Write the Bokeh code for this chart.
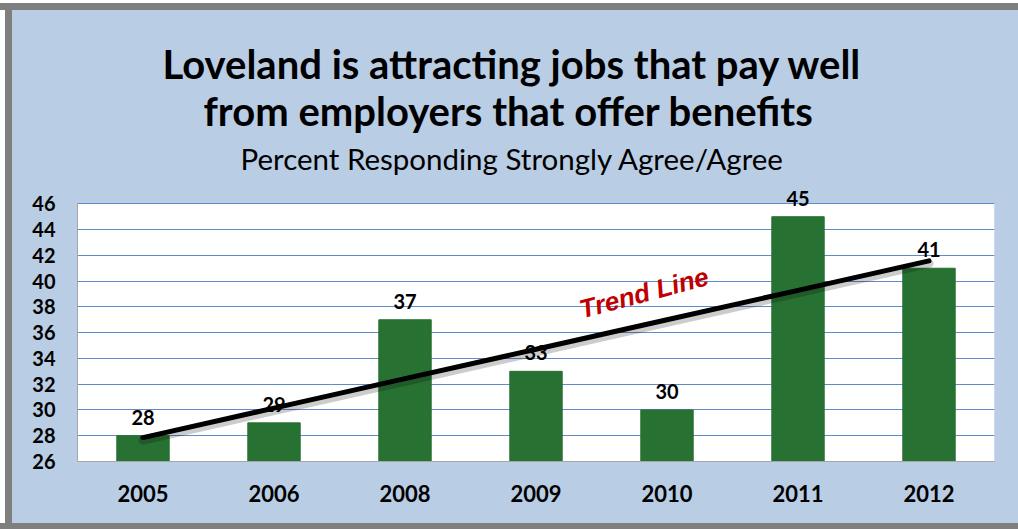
import numpy as np
from bokeh.plotting import figure
from bokeh.layouts import column
from bokeh.models import (FactorRange, Range1d, Title, LabelSet, ColumnDataSource,
                          Label, FixedTicker, BoxAnnotation)
from bokeh.core.properties import value
from bokeh.embed import file_html
from bokeh.resources import INLINE

# ---- data ----
years = ["2005", "2006", "2008", "2009", "2010", "2011", "2012"]
pct = [28, 29, 37, 33, 30, 45, 41]
y_ticks = [26, 28, 30, 32, 34, 36, 38, 40, 42, 44, 46]
title_line1 = "Loveland is attracting jobs that pay well"
title_line2 = "from employers that offer benefits"
subtitle = "Percent Responding Strongly Agree/Agree"
trend_text = "Trend Line"

# ---- styles ----
BG = "#b9cde5"
FRAME_GRAY = "#7f7f7f"
GREEN = "#277132"
GRID = "#5f8bcb"
AXIS = "#a6a6a6"
FONT = "Lato"
HEADROOM = 1.5   # space above the plot area so value labels are not clipped

# linear trend (least squares over category index)
idx = np.arange(len(pct))
slope, intercept = np.polyfit(idx, pct, 1)
trend = list(intercept + slope * idx)
trend_shadow = [t - 0.2 for t in trend]

src = ColumnDataSource(dict(year=years, pct=pct, label=[str(v) for v in pct],
                            base=[y_ticks[0]] * len(pct), trend=trend,
                            shadow=trend_shadow))

p = figure(width=1006, height=513,
           x_range=FactorRange(*years, range_padding=0),
           y_range=Range1d(y_ticks[0], y_ticks[-1] + HEADROOM),
           output_backend="svg", toolbar_location=None,
           min_border_left=65, min_border_right=24,
           min_border_bottom=62, min_border_top=174,
           background_fill_color=BG, border_fill_color=BG,
           outline_line_color=None)
p.margin = (10, 0, 6, 12)

# white plot area 26..46
p.add_layout(BoxAnnotation(bottom=y_ticks[0], top=y_ticks[-1], fill_color="white",
                           fill_alpha=1, line_color=None, level="image"))

# titles (added bottom-up)
p.add_layout(Title(text=subtitle, align="left", text_font=FONT,
                   text_font_size="29.5px", text_font_style="normal",
                   text_color="#000000", standoff=18, offset=163), "above")
p.add_layout(Title(text=title_line2, align="left", text_font=FONT,
                   text_font_size="40px", text_font_style="bold",
                   text_color="#000000", standoff=-10, offset=126), "above")
p.add_layout(Title(text=title_line1, align="left", text_font=FONT,
                   text_font_size="40px", text_font_style="bold",
                   text_color="#000000", standoff=3, offset=85), "above")

# axes
p.yaxis.ticker = FixedTicker(ticks=y_ticks)
p.yaxis.bounds = (y_ticks[0], y_ticks[-1])
p.yaxis.major_label_text_font = FONT
p.yaxis.major_label_text_font_size = "20px"
p.yaxis.major_label_text_font_style = "bold"
p.yaxis.major_label_text_color = "#000000"
p.yaxis.major_tick_line_color = None
p.yaxis.minor_tick_line_color = None
p.yaxis.major_tick_out = 0
p.yaxis.major_label_standoff = 22
p.yaxis.axis_line_color = AXIS

p.xaxis.major_label_text_font = FONT
p.xaxis.major_label_text_font_size = "22px"
p.xaxis.major_label_text_font_style = "bold"
p.xaxis.major_label_text_color = "#000000"
p.xaxis.major_tick_line_color = None
p.xaxis.major_tick_out = 0
p.xaxis.major_label_standoff = 23
p.xaxis.axis_line_color = AXIS

p.xgrid.grid_line_color = None
p.ygrid.grid_line_color = GRID
p.ygrid.grid_line_width = 1

# bars
p.vbar(x="year", top="pct", bottom="base", width=0.4, source=src,
       fill_color=GREEN, line_color=GREEN)

# value labels
p.add_layout(LabelSet(x="year", y="pct", text="label", source=src,
                      text_align="center", text_baseline="bottom", y_offset=11,
                      text_font=value(FONT), text_font_size=value("20px"),
                      text_font_style=value("bold"), text_color="#000000"))

# trend line with soft shadow
shadow = p.line(x="year", y="shadow", source=src, line_color="#000000",
                line_alpha=0.2, line_width=9, line_cap="round")
shadow.level = "overlay"
tl = p.line(x="year", y="trend", source=src, line_color="#000000",
            line_width=5, line_cap="round")
tl.level = "overlay"

# "Trend Line" annotation placed above the fitted line near 2010
k = years.index("2010")
p.add_layout(Label(x=k + 0.5, y=trend[k], x_offset=-23, y_offset=27,
                   text=trend_text, angle=0.26, text_align="center",
                   text_baseline="middle", text_font="Liberation Sans",
                   text_font_size="26px", text_font_style="bold italic",
                   text_color="#c00000"))

# page background: light blue behind the chart, grey frame band at top/left/bottom
page = column(p, styles={
    "background-color": BG,
    "background-image": (
        f"linear-gradient(to bottom, #ffffff 0px, #ffffff 3px, {FRAME_GRAY} 3px, "
        f"{FRAME_GRAY} 10px, transparent 10px, transparent 523px, {FRAME_GRAY} 523px), "
        f"linear-gradient(to right, #ffffff 0px, #ffffff 5px, {FRAME_GRAY} 5px, "
        f"{FRAME_GRAY} 12px, transparent 12px)"),
})
open("out.html", "w").write(file_html(page, INLINE))
